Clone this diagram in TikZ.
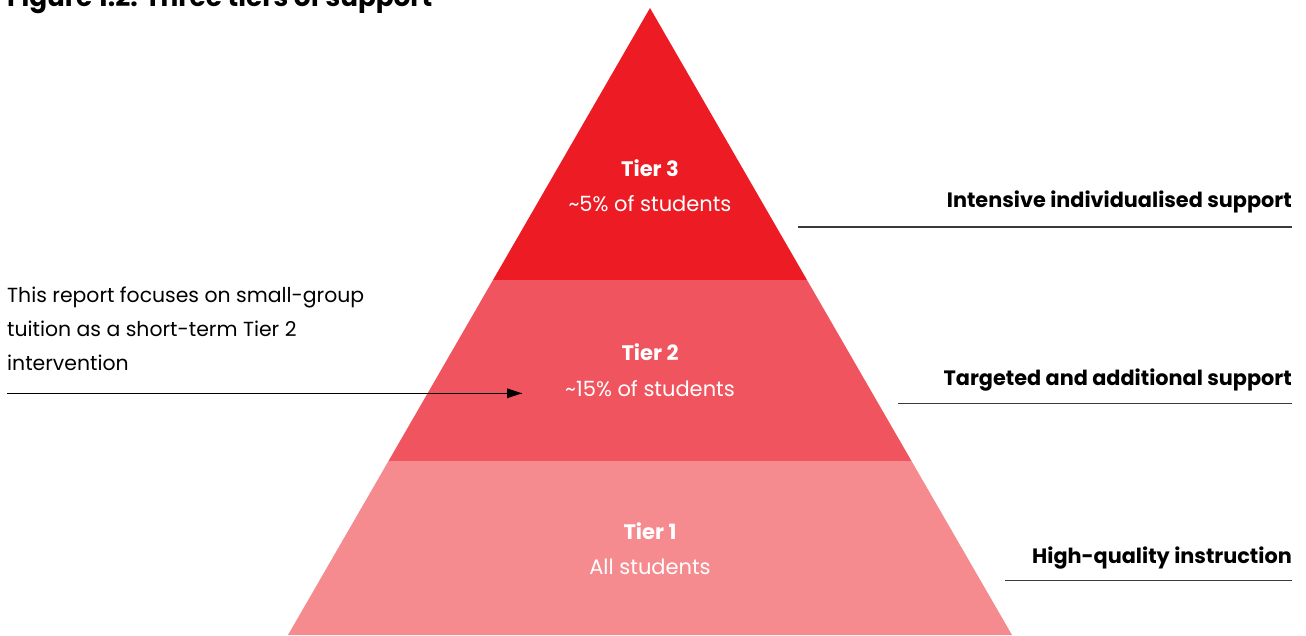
\documentclass[tikz,border=0pt]{standalone}
\usepackage{fontspec}
\setmainfont{Poppins}
\definecolor{tierthree}{HTML}{ED1C24}
\definecolor{tiertwo}{HTML}{F0545E}
\definecolor{tierone}{HTML}{F58B8F}
\definecolor{rulegray}{HTML}{3A3A3A}
\begin{document}
\begin{tikzpicture}[x=1pt,y=-1pt]
\tikzstyle{every node}+=[inner sep=0pt]
\tikzset{tiername/.style={anchor=base,text=white,font=\fontsize{21}{25}\selectfont\bfseries},
  tiershare/.style={anchor=base,text=white,font=\fontsize{21}{25}\selectfont},
  sidelabel/.style={anchor=base east,font=\fontsize{20.8}{25}\selectfont\bfseries},
  sideline/.style={rulegray,line width=1.3pt}}
\useasboundingbox (0,0) rectangle (1306,635);
\draw (7,6) node [anchor=base west,font=\fontsize{26.3}{30}\selectfont\bfseries] (title) {Figure 1.2: Three tiers of support};
% pyramid
\fill [tierthree] (650,8) -- (807,280) -- (493,280) -- cycle;
\fill [tiertwo] (493,280) -- (807,280) -- (911.5,461) -- (388.5,461) -- cycle;
\fill [tierone] (388.5,461) -- (911.5,461) -- (1012,635) -- (288,635) -- cycle;
\draw (650,176) node [tiername] (tier3) {Tier 3};
\draw (650,211) node [tiershare] (share3) {\textasciitilde5\% of students};
\draw (650,360) node [tiername] (tier2) {Tier 2};
\draw (650,396) node [tiershare] (share2) {\textasciitilde15\% of students};
\draw (650,539) node [tiername] (tier1) {Tier 1};
\draw (650,574) node [tiershare] (share1) {All students};
% side labels
\draw (1292,207) node [sidelabel] (sup3) {Intensive individualised support};
\draw (1292,385) node [sidelabel] (sup2) {Targeted and additional support};
\draw (1292,563) node [sidelabel] (sup1) {High-quality instruction};
\coordinate (rule3) at (798,227);
\coordinate (rule2) at (898,403.5);
\coordinate (rule1) at (1005,580.5);
\draw [sideline] (rule3) -- (rule3 -| sup3.east);
\draw [sideline] (rule2) -- (rule2 -| sup2.east);
\draw [sideline] (rule1) -- (rule1 -| sup1.east);
% note and arrow
\draw (7,370) node [anchor=base west,align=left,font=\fontsize{20.4}{34}\selectfont] (note) {This report focuses on small-group\\tuition as a short-term Tier 2\\intervention};
\coordinate (start) at (7,393.3);
\coordinate (tip) at (522,393.3);
\draw [black,line width=1pt] (start) -- (tip);
\fill [black] (tip) -- ++(-15,-5) -- ++(0,10) -- cycle;
\end{tikzpicture}
\end{document}
